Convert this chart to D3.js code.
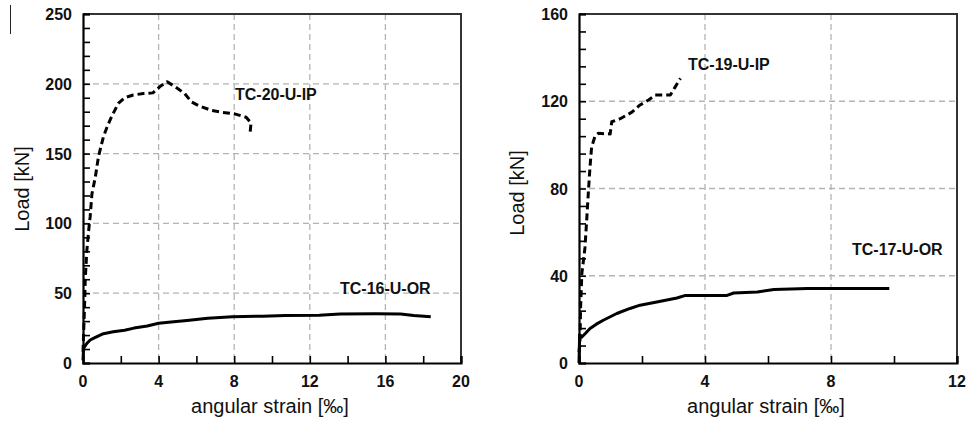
<!DOCTYPE html>
<html><head><meta charset="utf-8">
<script src="https://cdn.jsdelivr.net/npm/d3@7"></script>
<style>
html,body{margin:0;padding:0;background:#fff;}
svg text{font-family:"Liberation Sans",Arial,sans-serif;fill:#111;}
</style></head>
<body><svg id="c" width="966" height="428"></svg>
<script>
// ---- data ----
const leftXTicks = [0,4,8,12,16,20];
const leftYTicks = [0,50,100,150,200,250];
const rightXTicks = [0,4,8,12];
const rightYTicks = [0,40,80,120,160];

const tc20x = [0,0.03,0.08,0.12,0.2,0.3,0.38,0.47,0.65,0.82,1.08,1.3,1.53,1.87,2.2,2.66,3.2,3.7,4.07,4.45,4.86,5.38,5.74,6.17,6.79,7.4,8.02,8.63,8.89,8.84];
const tc20y = [8,20,40,60,80,95,105,121,133,148,162,170,177,186,190,192,193,193.5,198,201.5,198,193,187,184,181,179.5,178.5,176,172,164.5];

const tc16x = [0,0.03,0.2,0.38,0.6,1.08,1.6,2.2,2.7,3.4,4.0,4.8,5.5,6.6,7.9,9.5,10.7,12.5,13.6,15.5,16.8,17.5,18.4];
const tc16y = [2,10.5,14,16.5,18,21,22.4,23.5,25,26.5,28.5,29.5,30.5,32,33.2,33.5,34,34.2,35.1,35.2,35.1,34,33.2];

const tc19x = [0,0.03,0.05,0.09,0.15,0.19,0.25,0.3,0.35,0.4,0.51,0.61,0.99,1.04,1.31,1.68,1.94,2.21,2.42,2.9,3.06,3.22];
const tc19y = [5,9,25,41,48,53,67,79,90,99,104,105.3,105,110.6,112,115,118.3,120.6,122.9,122.9,126.7,130.5];

const tc17x = [0,0.02,0.09,0.2,0.35,0.55,0.77,1.2,1.62,1.94,2.47,3.11,3.38,4.7,4.91,5.66,6.19,7.25,9.85];
const tc17y = [0,13,11.9,13.5,15.8,17.8,19.6,22.7,25,26.5,28,29.8,31,31,32.1,32.6,33.7,34.1,34.1];

const seriesNames = ["TC-20-U-IP","TC-16-U-OR","TC-19-U-IP","TC-17-U-OR"];
const xTitle = "angular strain [‰]";
const yTitle = "Load [kN]";

// ---- layout ----
const svg = d3.select("#c");
const panels = [
  {x0:83,x1:461,y0:14,y1:363,xmax:20,ymax:250,xt:leftXTicks,yt:leftYTicks,xminor:2,yminor:10,
   series:[{x:tc20x,y:tc20y,dash:true},{x:tc16x,y:tc16y,dash:false}],
   labels:[{t:seriesNames[0],x:235,y:100},{t:seriesNames[1],x:340,y:294}],
   ytx:22,yty:189},
  {x0:579,x1:957,y0:14,y1:363,xmax:12,ymax:160,xt:rightXTicks,yt:rightYTicks,xminor:2,yminor:8,
   series:[{x:tc19x,y:tc19y,dash:true},{x:tc17x,y:tc17y,dash:false}],
   labels:[{t:seriesNames[2],x:688,y:70},{t:seriesNames[3],x:852,y:255}],
   ytx:517,yty:193}
];

panels.forEach(p=>{
  const x = d3.scaleLinear().domain([0,p.xmax]).range([p.x0,p.x1]);
  const y = d3.scaleLinear().domain([0,p.ymax]).range([p.y1,p.y0]);
  const g = svg.append("g");

  // grid
  g.selectAll(".gx").data(p.xt.filter(v=>v>0&&v<p.xmax)).enter().append("line")
    .attr("x1",d=>x(d)).attr("x2",d=>x(d)).attr("y1",p.y0).attr("y2",p.y1)
    .attr("stroke","#b4b4b4").attr("stroke-width",1.3).attr("stroke-dasharray","6,4");
  g.selectAll(".gy").data(p.yt.filter(v=>v>0&&v<p.ymax)).enter().append("line")
    .attr("y1",d=>y(d)).attr("y2",d=>y(d)).attr("x1",p.x0).attr("x2",p.x1)
    .attr("stroke","#b4b4b4").attr("stroke-width",1.3).attr("stroke-dasharray","6,4");

  // frame top/right
  g.append("path").attr("d",`M${p.x0},${p.y0}H${p.x1}V${p.y1}`)
    .attr("fill","none").attr("stroke","#333").attr("stroke-width",2);

  // axes via d3
  const xAxis = d3.axisBottom(x).tickValues(d3.range(0,p.xmax+0.001,p.xminor)).tickSize(-7).tickFormat("");
  const gx = g.append("g").attr("transform",`translate(0,${p.y1})`).call(xAxis);
  const yAxis = d3.axisLeft(y).tickValues(d3.range(0,p.ymax+0.001,p.yminor)).tickSize(-7).tickFormat("");
  const gy = g.append("g").attr("transform",`translate(${p.x0},0)`).call(yAxis);
  [gx,gy].forEach(a=>{
    a.select(".domain").attr("stroke","#000").attr("stroke-width",2.2);
    a.selectAll(".tick line").attr("stroke","#000").attr("stroke-width",1.6);
  });

  // tick labels
  g.selectAll(".xl").data(p.xt).enter().append("text")
    .attr("x",d=>x(d)).attr("y",p.y1+24).attr("text-anchor","middle")
    .attr("font-size",16).attr("font-weight","bold").text(d=>d);
  g.selectAll(".yl").data(p.yt).enter().append("text")
    .attr("x",p.x0-11).attr("y",d=>y(d)+6).attr("text-anchor","end")
    .attr("font-size",16).attr("font-weight","bold").text(d=>d);

  // titles
  g.append("text").attr("x",(p.x0+p.x1)/2-2).attr("y",413).attr("text-anchor","middle")
    .attr("font-size",20).text(xTitle);
  g.append("text").attr("transform",`translate(${p.ytx+7},${p.yty}) rotate(-90)`)
    .attr("text-anchor","middle").attr("font-size",20).text(yTitle);

  // series
  const line = d3.line().x(d=>x(d[0])).y(d=>y(d[1]));
  p.series.forEach(s=>{
    const pts = s.x.map((v,i)=>[v,s.y[i]]);
    g.append("path").datum(pts).attr("d",line).attr("fill","none")
      .attr("stroke","#000").attr("stroke-width",3)
      .attr("stroke-linejoin","round")
      .attr("stroke-dasharray",s.dash?"7,4":null);
  });

  // labels
  g.selectAll(".lab").data(p.labels).enter().append("text")
    .attr("x",d=>d.x).attr("y",d=>d.y).attr("font-size",16).attr("font-weight","bold")
    .text(d=>d.t);
});

// crop-edge line at top-left of the reference
svg.append("line").attr("x1",10.5).attr("x2",10.5).attr("y1",5).attr("y2",34)
  .attr("stroke","#222").attr("stroke-width",1);
</script></body></html>
